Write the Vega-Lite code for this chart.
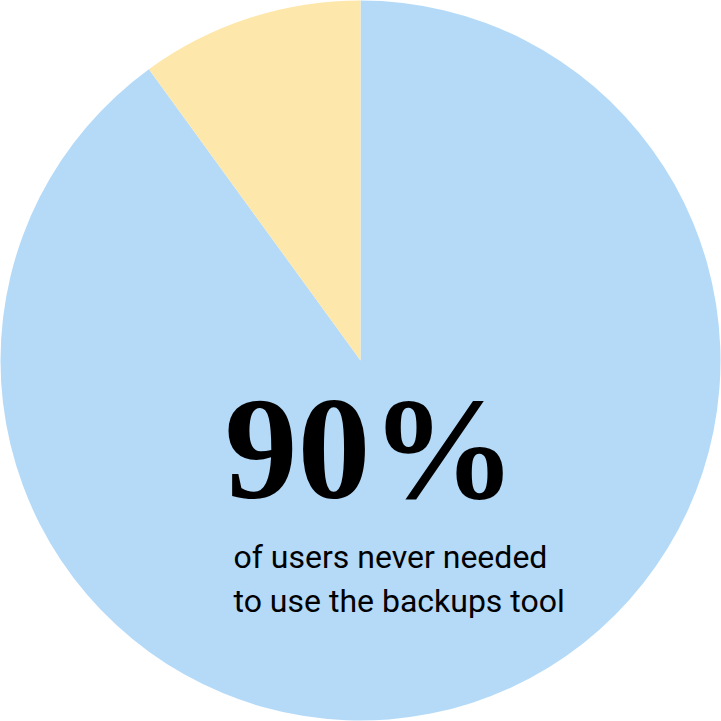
{
  "$schema": "https://vega.github.io/schema/vega-lite/v6.json",
  "width": 721,
  "height": 721,
  "autosize": {"type": "fit", "contains": "padding"},
  "padding": 0,
  "background": "white",
  "config": {"view": {"stroke": null}},
  "layer": [
    {
      "data": {"values": [
        {"category": "never needed", "value": 90},
        {"category": "needed", "value": 10}
      ]},
      "mark": {"type": "arc", "outerRadius": 360},
      "encoding": {
        "theta": {"field": "value", "type": "quantitative", "stack": true},
        "order": {"field": "value", "sort": "descending"},
        "color": {
          "field": "category",
          "type": "nominal",
          "scale": {"domain": ["never needed", "needed"], "range": ["#b4daf8", "#fde7aa"]},
          "legend": null
        }
      }
    },
    {
      "data": {"values": [{"label": "90%"}]},
      "mark": {"type": "text", "font": "Liberation Serif", "fontWeight": "bold", "fontSize": 146, "align": "center", "baseline": "alphabetic", "dx": 10, "dy": 137, "color": "black"},
      "encoding": {"text": {"field": "label"}}
    },
    {
      "data": {"values": [{"label": ["of users never needed", "to use the backups tool"]}]},
      "mark": {"type": "text", "font": "Roboto", "fontSize": 32, "lineHeight": 44, "align": "left", "baseline": "alphabetic", "dx": -127, "dy": 207, "color": "black"},
      "encoding": {"text": {"field": "label"}}
    }
  ]
}
